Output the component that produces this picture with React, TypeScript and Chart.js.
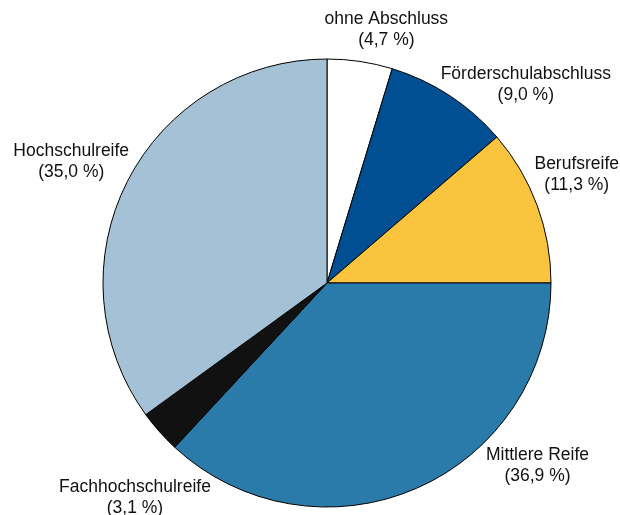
import React, { useEffect, useRef } from "react";
import { Chart, registerables } from "chart.js";

Chart.register(...registerables);

const categories = [
  "ohne Abschluss",
  "Förderschulabschluss",
  "Berufsreife",
  "Mittlere Reife",
  "Fachhochschulreife",
  "Hochschulreife",
];
const shares = [4.7, 9.0, 11.3, 36.9, 3.1, 35.0];
const shareLabels = ["(4,7 %)", "(9,0 %)", "(11,3 %)", "(36,9 %)", "(3,1 %)", "(35,0 %)"];
const colors = ["#ffffff", "#004f93", "#fbc43f", "#2a7ba9", "#111111", "#a4c1d6"];

// label placement: angle (deg clockwise from top) and distance as factor of radius
const labelAngles = [13.2, 45, 66.6, 131, 221.8, 295.3];
const labelDist = [1.16, 1.255, 1.215, 1.245, 1.286, 1.263];

const labelPlugin = {
  id: "outerLabels",
  afterDatasetsDraw(chart: any) {
    const meta = chart.getDatasetMeta(0);
    const ctx = chart.ctx;
    ctx.save();
    ctx.font = "17.5px 'Liberation Sans', Arial, sans-serif";
    ctx.fillStyle = "#111";
    ctx.textAlign = "center";
    ctx.textBaseline = "middle";
    meta.data.forEach((arc: any, i: number) => {
      const { x, y, outerRadius } = arc.getProps(["x", "y", "outerRadius"], true);
      const a = (labelAngles[i] * Math.PI) / 180;
      const d = outerRadius * labelDist[i];
      const cx = x + d * Math.sin(a);
      const cy = y - d * Math.cos(a);
      ctx.fillText(categories[i], cx, cy - 10.5);
      ctx.fillText(shareLabels[i], cx, cy + 10.5);
    });
    ctx.restore();
  },
};

export default function App() {
  const ref = useRef<HTMLCanvasElement | null>(null);
  useEffect(() => {
    document.body.style.margin = "0";
    const chart = new Chart(ref.current as HTMLCanvasElement, {
      type: "pie",
      data: {
        labels: categories,
        datasets: [
          {
            data: shares,
            backgroundColor: colors,
            borderColor: "#000",
            borderWidth: 1,
            radius: 224,
          } as any,
        ],
      },
      options: {
        animation: false,
        responsive: false,
        layout: { padding: { left: 34, right: 0, top: 51, bottom: 0 } },
        plugins: { legend: { display: false }, tooltip: { enabled: false } },
        elements: { arc: { borderJoinStyle: "miter" } as any },
      },
      plugins: [labelPlugin],
    });
    return () => chart.destroy();
  }, []);
  return (
    <div style={{ position: "absolute", left: 0, top: 0, width: 620, height: 515 }}>
      <canvas ref={ref} width={620} height={515} />
    </div>
  );
}
